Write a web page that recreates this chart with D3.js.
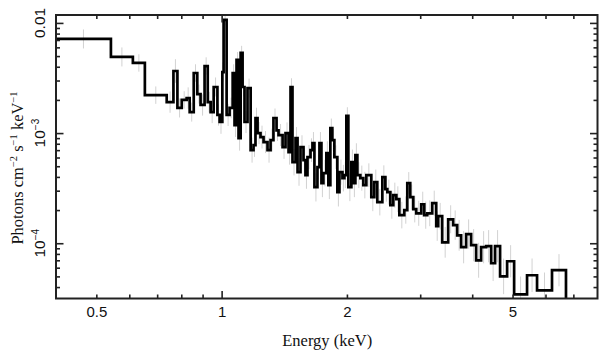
<!DOCTYPE html>
<html><head><meta charset="utf-8">
<script src="https://cdn.jsdelivr.net/npm/d3@7"></script>
<style>body{margin:0;background:#fff} svg{display:block}</style>
</head><body><svg id="c" width="608" height="361"></svg>
<script>
// Energy bin edges (keV)
const binEdges = [0.4,0.542,0.612,0.654,0.738,0.766,0.783,0.802,0.824,0.838,0.857,0.874,0.890,0.910,0.926,0.941,0.957,0.977,0.989,1.004,1.011,1.028,1.045,1.063,1.074,1.086,1.098,1.111,1.123,1.135,1.154,1.174,1.193,1.206,1.220,1.240,1.261,1.289,1.311,1.332,1.355,1.370,1.401,1.424,1.448,1.464,1.480,1.505,1.522,1.547,1.573,1.590,1.608,1.635,1.653,1.671,1.699,1.718,1.737,1.756,1.785,1.805,1.825,1.845,1.866,1.897,1.919,1.951,1.972,1.994,2.016,2.050,2.073,2.096,2.119,2.154,2.190,2.227,2.289,2.327,2.366,2.433,2.474,2.501,2.543,2.585,2.629,2.673,2.747,2.793,2.839,2.887,2.935,3.017,3.068,3.119,3.206,3.278,3.314,3.388,3.502,3.600,3.681,3.762,3.868,3.976,4.088,4.202,4.320,4.442,4.540,4.667,4.852,5.044,5.418,5.726,6.220,6.720];
// Flux per bin (photons cm^-2 s^-1 keV^-1)
const flux = [7.15e-3,4.91e-3,4.33e-3,2.21e-3,1.91e-3,3.66e-3,1.69e-3,2.00e-3,2.08e-3,1.55e-3,
3.51e-3,2.26e-3,1.80e-3,4.06e-3,1.91e-3,1.55e-3,2.62e-3,1.46e-3,1.26e-3,3.58e-3,
1.065e-2,1.46e-3,1.69e-3,3.51e-3,1.18e-3,4.61e-3,9.0e-4,5.34e-3,2.62e-3,1.26e-3,
2.56e-3,7.0e-4,7.78e-4,1.37e-3,1.0e-3,9.2e-4,8.29e-4,7.0e-4,8.64e-4,1.37e-3,
1.06e-3,9.6e-4,7.46e-4,1.0e-3,6.72e-4,2.62e-3,5.45e-4,9.0e-4,4.42e-4,7.46e-4,
5.68e-4,4.15e-4,6.05e-4,7.0e-4,8.11e-4,3.23e-4,4.91e-4,8.11e-4,3.51e-4,4.33e-4,
6.58e-4,3.37e-4,1.11e-3,8.64e-4,6.05e-4,2.91e-4,4.42e-4,3.90e-4,4.15e-4,1.43e-3,
3.23e-4,5.45e-4,3.51e-4,6.31e-4,4.15e-4,3.90e-4,3.37e-4,4.15e-4,2.62e-4,3.59e-4,
2.36e-4,3.98e-4,3.10e-4,2.91e-4,2.22e-4,2.73e-4,2.51e-4,1.80e-4,2.0e-4,3.51e-4,
2.62e-4,2.04e-4,1.87e-4,2.26e-4,1.80e-4,1.87e-4,2.31e-4,1.43e-4,1.76e-4,1.02e-4,
1.65e-4,1.46e-4,1.18e-4,9.2e-5,1.21e-4,9.6e-5,7.0e-5,9.2e-5,9.4e-5,6.58e-5,
9.4e-5,5.0e-5,6.86e-5,3.44e-5,5.12e-5,3.74e-5,5.69e-5];
// Relative 1-sigma error per bin
const relErr = [0.22,0.22,0.2,0.2,0.25,0.28,0.22,0.2,0.25,0.22,
0.2,0.22,0.25,0.2,0.24,0.26,0.22,0.25,0.28,0.22,
0.12,0.26,0.24,0.2,0.28,0.18,0.3,0.16,0.22,0.26,
0.22,0.3,0.28,0.24,0.26,0.27,0.26,0.3,0.27,0.22,
0.25,0.26,0.28,0.25,0.3,0.2,0.32,0.26,0.33,0.28,
0.3,0.33,0.29,0.28,0.26,0.35,0.3,0.26,0.34,0.32,
0.28,0.34,0.22,0.26,0.28,0.35,0.3,0.32,0.31,0.2,
0.34,0.3,0.34,0.28,0.31,0.3,0.32,0.28,0.34,0.3,
0.32,0.28,0.3,0.3,0.33,0.3,0.31,0.32,0.33,0.26,
0.3,0.32,0.3,0.3,0.33,0.31,0.3,0.36,0.32,0.38,
0.34,0.36,0.38,0.4,0.36,0.4,0.44,0.4,0.4,0.45,
0.4,0.45,0.4,0.45,0.42,0.45,0.4];
const xTickLabels = [0.5, 1, 2, 5];
const xMajorTicks = [1];
const xMinorTicks = [0.5,0.6,0.7,0.8,0.9,2,3,4,5,6,7];
const yMajorTicks = [1e-2, 1e-3, 1e-4];
const yLabelBase = ["0.01", "10", "10"];
const yLabelExp = ["", "\u22123", "\u22124"];
const yMinorTicks = [4e-5,5e-5,6e-5,7e-5,8e-5,9e-5,2e-4,3e-4,4e-4,5e-4,6e-4,7e-4,8e-4,9e-4,2e-3,3e-3,4e-3,5e-3,6e-3,7e-3,8e-3,9e-3];

const L = 56, R = 597.5, T = 15, B = 298.5;
const svg = d3.select("#c");
const x = d3.scaleLog().domain([0.4, 8]).range([L, R]);
const y = d3.scaleLog().domain([3.15e-5, 0.0118]).range([B, T]);

svg.append("defs").append("clipPath").attr("id","clip")
  .append("rect").attr("x",L).attr("y",T).attr("width",R-L).attr("height",B-T);

const plot = svg.append("g").attr("clip-path","url(#clip)");

// error bars
const bins = flux.map((f,i)=>({lo:binEdges[i], hi:binEdges[i+1], f, e:relErr[i]}));
plot.append("g").selectAll("line").data(bins).join("line")
  .attr("x1", d=>x(Math.sqrt(d.lo*d.hi))).attr("x2", d=>x(Math.sqrt(d.lo*d.hi)))
  .attr("y1", d=>y(d.f*(1+d.e))).attr("y2", d=>y(d.f/(1+d.e)))
  .attr("stroke","#d2d2d2").attr("stroke-width",1);

// histogram
const pts = bins.map(d=>[d.lo, d.f]);
pts.push([binEdges[binEdges.length-1], flux[flux.length-1]]);
pts.push([binEdges[binEdges.length-1], y.domain()[0]*0.8]);
const line = d3.line().x(d=>x(d[0])).y(d=>y(d[1])).curve(d3.curveStepAfter);
plot.append("path").attr("d", line(pts)).attr("fill","none")
  .attr("stroke","#000").attr("stroke-width",2.7).attr("stroke-linejoin","miter");

// axes ticks (inward)
function ticks(axisFn, scale, vals, size, pos){
  const g = svg.append("g").attr("transform", pos)
    .call(axisFn(scale).tickValues(vals).tickSize(-size).tickFormat(""));
  g.select(".domain").remove();
  g.selectAll("line").attr("stroke","#222").attr("stroke-width",1.6);
}
ticks(d3.axisBottom, x, xMinorTicks, 4, `translate(0,${B})`);
ticks(d3.axisBottom, x, xMajorTicks, 7.5, `translate(0,${B})`);
ticks(d3.axisTop, x, xMinorTicks, 4, `translate(0,${T})`);
ticks(d3.axisTop, x, xMajorTicks, 7.5, `translate(0,${T})`);
ticks(d3.axisLeft, y, yMinorTicks, 4, `translate(${L},0)`);
ticks(d3.axisLeft, y, yMajorTicks, 7.5, `translate(${L},0)`);
ticks(d3.axisRight, y, yMinorTicks, 4, `translate(${R},0)`);
ticks(d3.axisRight, y, yMajorTicks, 7.5, `translate(${R},0)`);

// frame
svg.append("rect").attr("x",L).attr("y",T).attr("width",R-L).attr("height",B-T)
  .attr("fill","none").attr("stroke","#222").attr("stroke-width",2);

// x tick labels
const xl = svg.append("g").attr("transform",`translate(0,${B})`)
  .call(d3.axisBottom(x).tickValues(xTickLabels).tickSize(0).tickPadding(8).tickFormat(d=>String(d)));
xl.select(".domain").remove();
xl.selectAll("text").attr("font-family","'Liberation Sans', Arial, sans-serif").attr("font-size",15).attr("fill","#111");

// y tick labels (rotated)
yMajorTicks.forEach((v,i)=>{
  const t = svg.append("text").attr("transform",`translate(45,${y(v)}) rotate(-90)`)
    .attr("text-anchor","middle").attr("font-family","'Liberation Sans', Arial, sans-serif")
    .attr("font-size",15.5).attr("fill","#111");
  t.append("tspan").text(yLabelBase[i]);
  if (yLabelExp[i]) t.append("tspan").attr("font-size",10).attr("dy",-6).text(yLabelExp[i]);
});

// axis titles
svg.append("text").attr("x",(L+R)/2+0.5).attr("y",346).attr("text-anchor","middle")
  .attr("font-family","'Liberation Serif', 'Times New Roman', serif").attr("font-size",16.5).attr("fill","#111")
  .text("Energy (keV)");
const yt = svg.append("text").attr("transform","translate(23,168) rotate(-90)").attr("text-anchor","middle")
  .attr("font-family","'Liberation Serif', 'Times New Roman', serif").attr("font-size",16.5).attr("fill","#111");
yt.append("tspan").text("Photons cm");
yt.append("tspan").attr("font-size",10.5).attr("dy",-6).text("\u22122");
yt.append("tspan").attr("dy",6).text(" s");
yt.append("tspan").attr("font-size",10.5).attr("dy",-6).text("\u22121");
yt.append("tspan").attr("dy",6).text(" keV");
yt.append("tspan").attr("font-size",10.5).attr("dy",-6).text("\u22121");
</script></body></html>
